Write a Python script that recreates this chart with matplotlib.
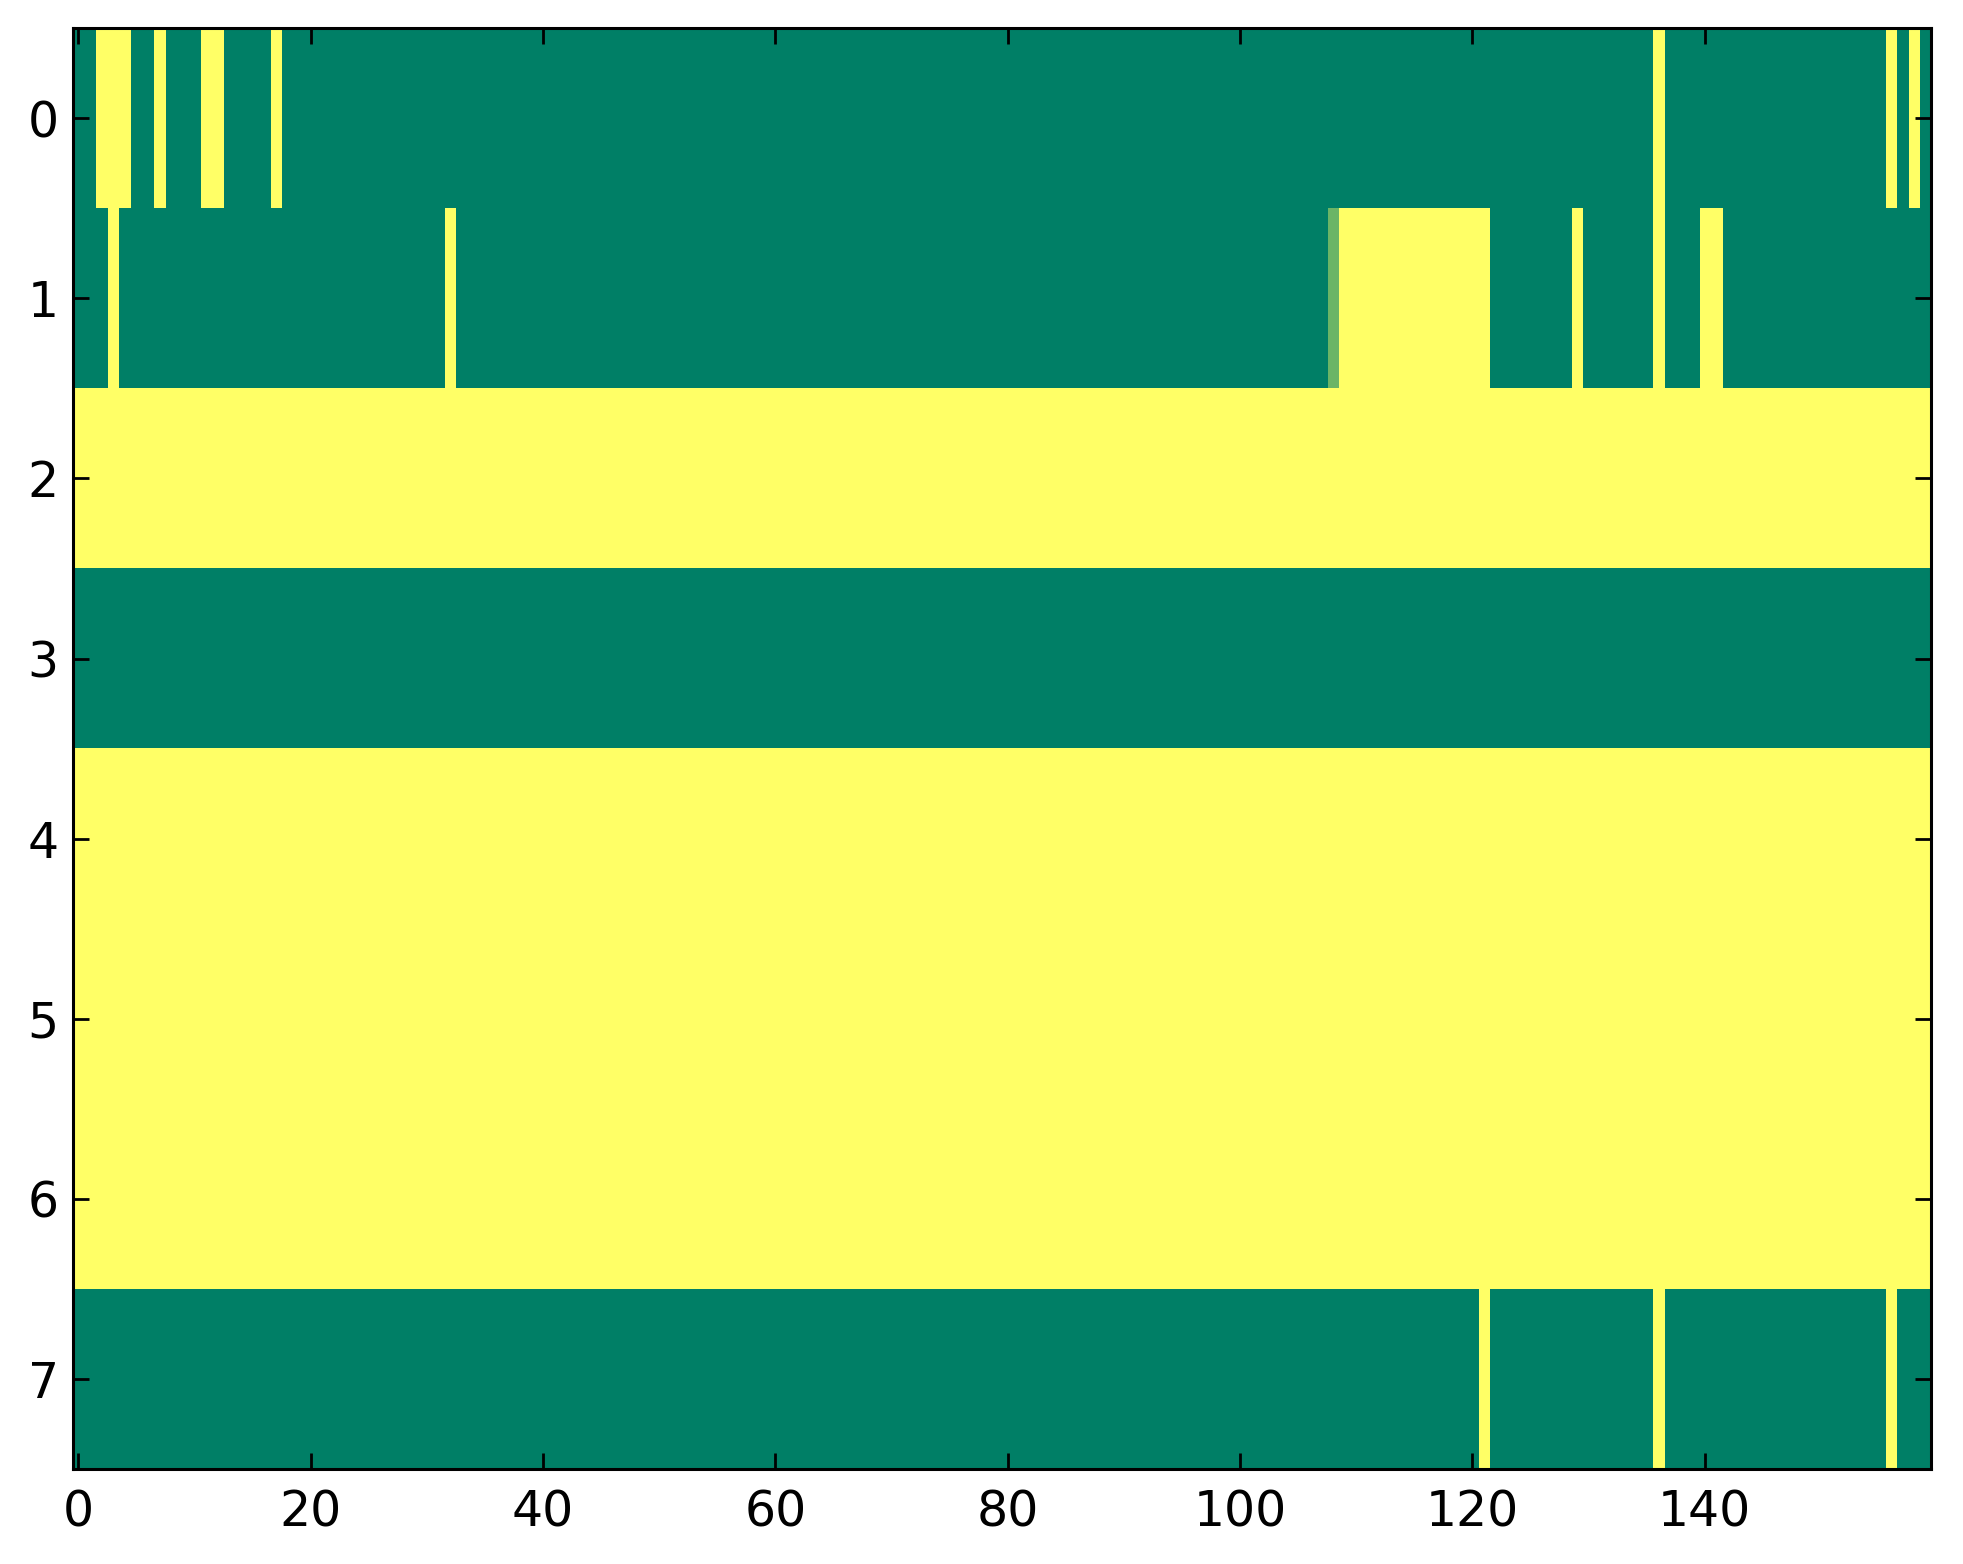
import numpy as np
import matplotlib.pyplot as plt

n_cols = 160
n_rows = 8

# rows that are one flat value all the way across
flat_rows = {2: 1.0, 3: 0.0, 4: 1.0, 5: 1.0, 6: 1.0}

# columns that light up (value 1) in the other rows
row0_on = [2, 3, 4, 7, 11, 12, 17, 136, 156, 158]
row1_on = [3, 32, 109, 110, 111, 112, 113, 114, 115, 116, 117, 118, 119,
           120, 121, 129, 136, 140, 141]
row7_on = [121, 136, 156]

# one in-between cell in row 1
row1_partial_col = 108
row1_partial_val = 0.42

grid = np.zeros((n_rows, n_cols))
for r, v in flat_rows.items():
    grid[r, :] = v
grid[0, row0_on] = 1.0
grid[1, row1_on] = 1.0
grid[1, row1_partial_col] = row1_partial_val
grid[7, row7_on] = 1.0

fig = plt.figure(figsize=(1963 / 200, 1564 / 200), dpi=200)
ax = fig.add_axes([0.0370, 0.0607, 0.9467, 0.9213])
ax.imshow(grid, cmap='summer', aspect='auto', interpolation='nearest',
          vmin=0, vmax=1)

ax.set_xticks(np.arange(0, 141, 20))
ax.set_yticks(np.arange(0, 8))
ax.tick_params(direction='in', length=5.8, width=1.0, labelsize=17.6,
               top=True, right=True)
ax.tick_params(axis='x', pad=7)
ax.tick_params(axis='y', pad=5)
for s in ax.spines.values():
    s.set_linewidth(1.1)

plt.savefig('out.png', dpi=200)
